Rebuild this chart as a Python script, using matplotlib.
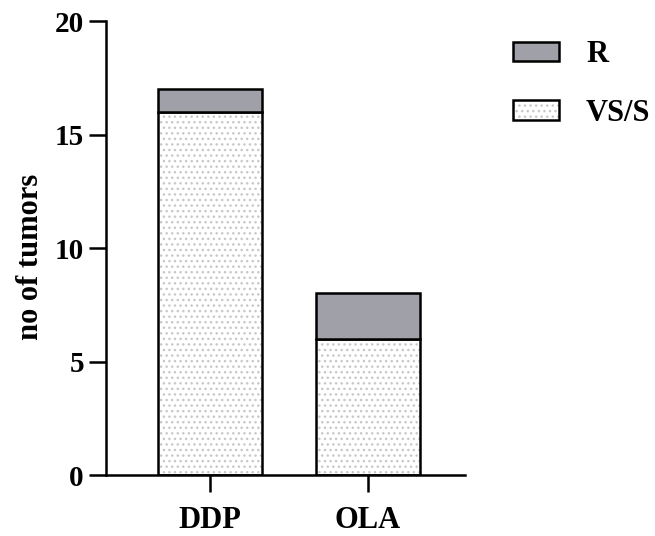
import matplotlib.pyplot as plt
from matplotlib.patches import Patch
from matplotlib.legend_handler import HandlerTuple

plt.rcParams['font.family'] = ['Liberation Serif', 'DejaVu Serif']
plt.rcParams['font.weight'] = 'bold'
plt.rcParams['hatch.linewidth'] = 1.0

groups = ['DDP', 'OLA']
vs_s = [16, 6]
r = [1, 2]
yticks = [0, 5, 10, 15, 20]

gray = '#a0a0a8'
dot = '#c8c8c8'
x = list(range(len(groups)))
w = 0.658

fig = plt.figure(figsize=(6.55, 5.36), dpi=100)
ax = fig.add_axes([0.162, 0.1138, 0.548, 0.847])

# dotted fill first, then the black outlines on top
ax.bar(x, vs_s, width=w, color='white', edgecolor=dot, hatch='...', linewidth=0)
ax.bar(x, vs_s, width=w, color='none', edgecolor='black', linewidth=1.8)
ax.bar(x, r, bottom=vs_s, width=w, color=gray, edgecolor='black', linewidth=1.8)

ax.set_xlim(-0.658, 1.614)
ax.set_ylim(0, 20)
ax.set_yticks(yticks)
ax.set_xticks(x)
ax.set_xticklabels(groups)
ax.set_ylabel('no of tumors', fontsize=22, fontweight='bold', labelpad=10)
ax.yaxis.set_label_coords(-0.17, 0.48)

for s in ['top', 'right']:
    ax.spines[s].set_visible(False)
for s in ['left', 'bottom']:
    ax.spines[s].set_linewidth(1.8)
ax.tick_params(axis='both', width=1.8, length=12, direction='out')
ax.tick_params(axis='y', labelsize=21, pad=4)
ax.tick_params(axis='x', labelsize=22, pad=10)

h_r = Patch(facecolor=gray, edgecolor='black', linewidth=1.8)
h_fill = Patch(facecolor='white', edgecolor=dot, hatch='...', linewidth=0)
h_edge = Patch(facecolor='none', edgecolor='black', linewidth=1.8)
leg = fig.legend(handles=[h_r, (h_fill, h_edge)], labels=['R', 'VS/S'],
                 handler_map={tuple: HandlerTuple(ndivide=1, pad=0)},
                 loc='upper left', bbox_to_anchor=(0.765, 0.948), borderaxespad=0,
                 frameon=False, fontsize=22, handlelength=1.5, handleheight=0.59,
                 handletextpad=0.88, labelspacing=0.97)

fig.savefig('out.png', dpi=100)
